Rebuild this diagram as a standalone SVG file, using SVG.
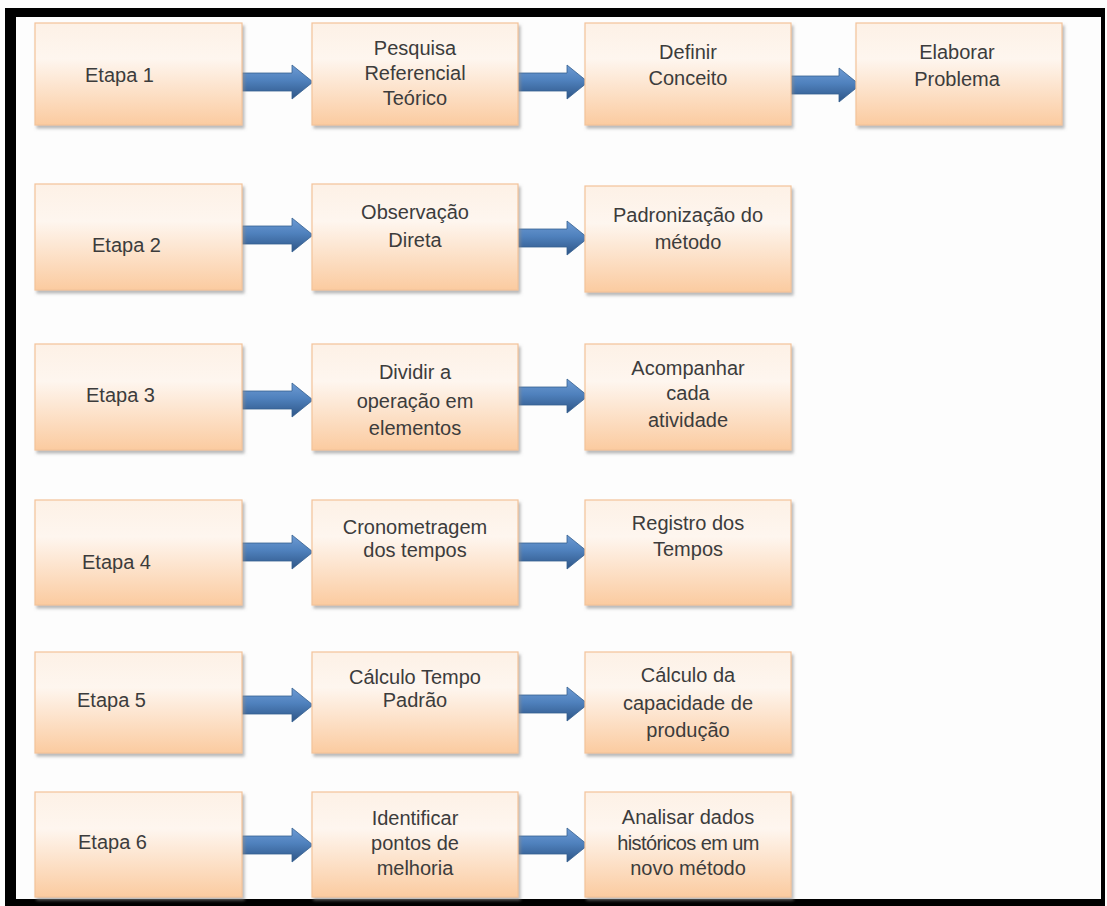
<svg xmlns="http://www.w3.org/2000/svg" width="1107" height="906" viewBox="0 0 1107 906">
  <defs>
    <linearGradient id="boxFill" x1="0" y1="0" x2="0" y2="1">
      <stop offset="0" stop-color="#fdf1e6"/>
      <stop offset="0.35" stop-color="#fef6ef"/>
      <stop offset="1" stop-color="#fbcba0"/>
    </linearGradient>
    <linearGradient id="arrowFill" x1="0" y1="0" x2="0" y2="1">
      <stop offset="0" stop-color="#6e9bd4"/>
      <stop offset="0.45" stop-color="#4f81bd"/>
      <stop offset="1" stop-color="#2e5586"/>
    </linearGradient>
    <filter id="shadow" x="-5%" y="-5%" width="115%" height="120%">
      <feDropShadow dx="2" dy="3" stdDeviation="1.5" flood-color="#8c8c8c" flood-opacity="0.6"/>
    </filter>
  </defs>
  <style>
    .box { fill: url(#boxFill); stroke: #f3c39a; stroke-width: 1.2; filter: url(#shadow); }
    .lbl { font-family: "Liberation Sans", Arial, sans-serif; font-size: 20px; fill: #3c3c3c; text-anchor: middle; }
    .stage { font-family: "Liberation Sans", Arial, sans-serif; font-size: 20px; fill: #3c3c3c; }
    .arrow { fill: url(#arrowFill); stroke: #35608f; stroke-width: 0.8; }
    .frame { fill: #000; }
  </style>

  <rect x="0" y="0" width="1107" height="906" fill="#fdfdfd"/>

  <!-- outer frame -->
  <g id="frame">
    <rect class="frame" x="5" y="8" width="1100" height="9"/>
    <rect class="frame" x="5" y="8" width="11" height="898"/>
    <rect class="frame" x="1101" y="8" width="4" height="898"/>
    <rect class="frame" x="5" y="899" width="1100" height="7"/>
  </g>

  <!-- connectors -->
  <g id="connectors">
    <path class="arrow" d="M242,73 L292,73 L292,65 L313,82 L292,99 L292,91 L242,91 Z"/>
    <path class="arrow" d="M518,73 L567,73 L567,65 L588,82 L567,99 L567,91 L518,91 Z"/>
    <path class="arrow" d="M791,76 L839,76 L839,68 L860,85 L839,102 L839,94 L791,94 Z"/>

    <path class="arrow" d="M242,226 L292,226 L292,218 L313,235 L292,252 L292,244 L242,244 Z"/>
    <path class="arrow" d="M518,229 L567,229 L567,221 L588,238 L567,255 L567,247 L518,247 Z"/>

    <path class="arrow" d="M242,391 L292,391 L292,383 L313,400 L292,417 L292,409 L242,409 Z"/>
    <path class="arrow" d="M518,387 L567,387 L567,379 L588,396 L567,413 L567,405 L518,405 Z"/>

    <path class="arrow" d="M242,543 L292,543 L292,535 L313,552 L292,569 L292,561 L242,561 Z"/>
    <path class="arrow" d="M518,543 L567,543 L567,535 L588,552 L567,569 L567,561 L518,561 Z"/>

    <path class="arrow" d="M242,696 L292,696 L292,688 L313,705 L292,722 L292,714 L242,714 Z"/>
    <path class="arrow" d="M518,695 L567,695 L567,687 L588,704 L567,721 L567,713 L518,713 Z"/>

    <path class="arrow" d="M242,836 L292,836 L292,828 L313,845 L292,862 L292,854 L242,854 Z"/>
    <path class="arrow" d="M518,836 L567,836 L567,828 L588,845 L567,862 L567,854 L518,854 Z"/>
  </g>

  <!-- row 1 -->
  <g id="etapa1">
    <rect class="box" x="35" y="23" width="207" height="102"/>
    <text class="stage" x="85" y="82">Etapa 1</text>
  </g>
  <g id="pesquisa">
    <rect class="box" x="312" y="23" width="206" height="102"/>
    <text class="lbl" x="415" y="55">Pesquisa</text>
    <text class="lbl" x="415" y="80">Referencial</text>
    <text class="lbl" x="415" y="105">Teórico</text>
  </g>
  <g id="definir">
    <rect class="box" x="585" y="23" width="206" height="102"/>
    <text class="lbl" x="688" y="59">Definir</text>
    <text class="lbl" x="688" y="85">Conceito</text>
  </g>
  <g id="elaborar">
    <rect class="box" x="856" y="23" width="206" height="102"/>
    <text class="lbl" x="957" y="59">Elaborar</text>
    <text class="lbl" x="957" y="86">Problema</text>
  </g>

  <!-- row 2 -->
  <g id="etapa2">
    <rect class="box" x="35" y="184" width="207" height="106"/>
    <text class="stage" x="92" y="252">Etapa 2</text>
  </g>
  <g id="observacao">
    <rect class="box" x="312" y="184" width="206" height="106"/>
    <text class="lbl" x="415" y="219">Observação</text>
    <text class="lbl" x="415" y="247">Direta</text>
  </g>
  <g id="padronizacao">
    <rect class="box" x="585" y="186" width="206" height="106"/>
    <text class="lbl" x="688" y="222">Padronização do</text>
    <text class="lbl" x="688" y="249">método</text>
  </g>

  <!-- row 3 -->
  <g id="etapa3">
    <rect class="box" x="35" y="344" width="207" height="106"/>
    <text class="stage" x="86" y="402">Etapa 3</text>
  </g>
  <g id="dividir">
    <rect class="box" x="312" y="344" width="206" height="106"/>
    <text class="lbl" x="415" y="379">Dividir a</text>
    <text class="lbl" x="415" y="408">operação em</text>
    <text class="lbl" x="415" y="435">elementos</text>
  </g>
  <g id="acompanhar">
    <rect class="box" x="585" y="344" width="206" height="106"/>
    <text class="lbl" x="688" y="375">Acompanhar</text>
    <text class="lbl" x="688" y="400">cada</text>
    <text class="lbl" x="688" y="427">atividade</text>
  </g>

  <!-- row 4 -->
  <g id="etapa4">
    <rect class="box" x="35" y="500" width="207" height="105"/>
    <text class="stage" x="82" y="569">Etapa 4</text>
  </g>
  <g id="cronometragem">
    <rect class="box" x="312" y="500" width="206" height="105"/>
    <text class="lbl" x="415" y="534">Cronometragem</text>
    <text class="lbl" x="415" y="557">dos tempos</text>
  </g>
  <g id="registro">
    <rect class="box" x="585" y="500" width="206" height="105"/>
    <text class="lbl" x="688" y="530">Registro dos</text>
    <text class="lbl" x="688" y="556">Tempos</text>
  </g>

  <!-- row 5 -->
  <g id="etapa5">
    <rect class="box" x="35" y="652" width="207" height="101"/>
    <text class="stage" x="77" y="707">Etapa 5</text>
  </g>
  <g id="tempo-padrao">
    <rect class="box" x="312" y="652" width="206" height="101"/>
    <text class="lbl" x="415" y="684">Cálculo Tempo</text>
    <text class="lbl" x="415" y="707">Padrão</text>
  </g>
  <g id="capacidade">
    <rect class="box" x="585" y="652" width="206" height="101"/>
    <text class="lbl" x="688" y="682">Cálculo da</text>
    <text class="lbl" x="688" y="710">capacidade de</text>
    <text class="lbl" x="688" y="737">produção</text>
  </g>

  <!-- row 6 -->
  <g id="etapa6">
    <rect class="box" x="35" y="792" width="207" height="105"/>
    <text class="stage" x="78" y="849">Etapa 6</text>
  </g>
  <g id="identificar">
    <rect class="box" x="312" y="792" width="206" height="105"/>
    <text class="lbl" x="415" y="825">Identificar</text>
    <text class="lbl" x="415" y="850">pontos de</text>
    <text class="lbl" x="415" y="875">melhoria</text>
  </g>
  <g id="analisar">
    <rect class="box" x="585" y="792" width="206" height="105"/>
    <text class="lbl" x="688" y="824">Analisar dados</text>
    <text class="lbl" x="688" y="850" letter-spacing="-0.6">históricos em um</text>
    <text class="lbl" x="688" y="875">novo método</text>
  </g>
</svg>
